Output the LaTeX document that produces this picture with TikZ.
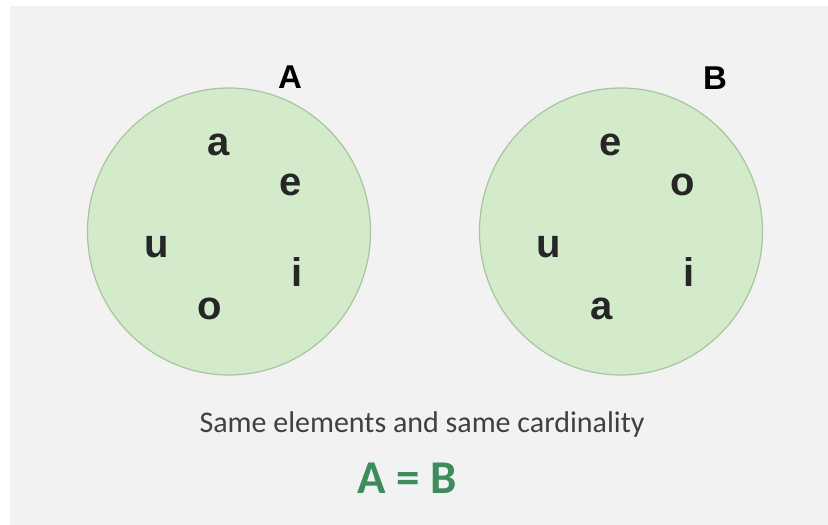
\documentclass[tikz,border=0pt]{standalone}
\usepackage{fontspec}
\usetikzlibrary{shapes.geometric}
\setmainfont{Carlito}
\newfontfamily\arialish{Liberation Sans}
\definecolor{bgray}{HTML}{F2F2F2}
\definecolor{setfill}{HTML}{D3EBCB}
\definecolor{setline}{HTML}{A8C4A0}
\definecolor{eqgreen}{HTML}{3E8C5C}
\definecolor{captxt}{HTML}{404040}
\begin{document}
\begin{tikzpicture}[x=1pt,y=-1pt,
  setcircle/.style={ellipse,draw=setline,fill=setfill,line width=1.2pt,minimum width=283pt,minimum height=287pt,inner sep=0pt},
  elem/.style={font=\arialish\fontsize{40}{44}\selectfont\bfseries,text=black!85,inner sep=0pt},
  setname/.style={font=\arialish\fontsize{33}{38}\selectfont\bfseries,text=black,inner sep=0pt}]
\useasboundingbox (0,0) rectangle (828,525);
\fill[white] (0,0) rectangle (828,525);
\fill[bgray] (10,6) rectangle (828,525);
\node[setcircle] (cA) at (229,231.5) {};
\node[setcircle] (cB) at (621,231.5) {};
\node[setname] (lA) at (290,77) {A};
\node[setname] (lB) at (715,78) {B};
% set A
\node[elem] (Aa) at (219,145) {a};
\node[elem] (Ae) at (291,185) {e};
\node[elem] (Au) at (157,247) {u};
\node[elem] (Ai) at (297,272) {i};
\node[elem] (Ao) at (210,309) {o};
% set B
\node[elem] (Be) at (611,145) {e};
\node[elem] (Bo) at (683,185) {o};
\node[elem] (Bu) at (549,247) {u};
\node[elem] (Bi) at (689,272) {i};
\node[elem] (Ba) at (602,309) {a};
\node[font=\fontsize{30}{34}\selectfont,text=captxt,inner sep=0pt,anchor=base] (cap) at (422,432) {Same elements and same cardinality};
\node[font=\fontsize{47}{50}\selectfont\bfseries,text=eqgreen,inner sep=0pt,anchor=base] (eq) at (407,493) {A = B};
\end{tikzpicture}
\end{document}
